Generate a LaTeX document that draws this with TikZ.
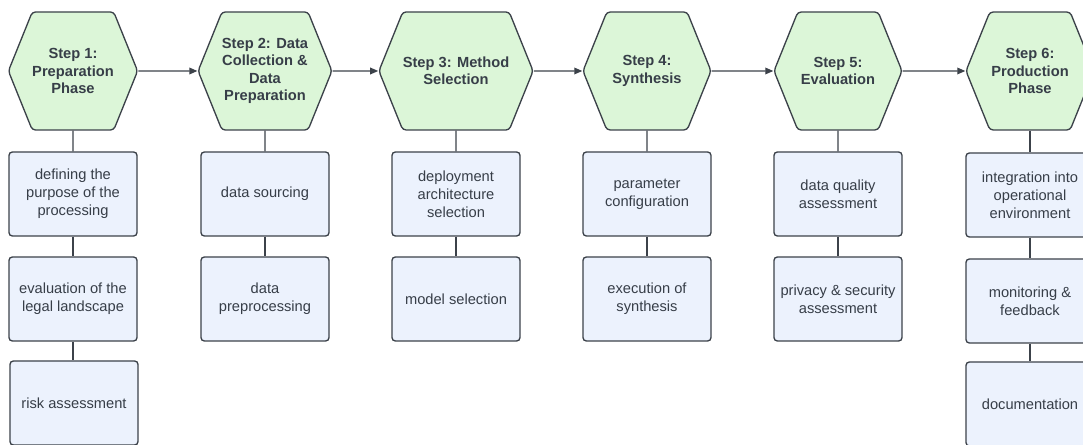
\documentclass[tikz,border=0pt]{standalone}
\usepackage{fontspec}
\setmainfont{Liberation Sans}
\usetikzlibrary{arrows.meta,shapes.symbols}

\definecolor{hexgreen}{RGB}{220,246,216}
\definecolor{boxblue}{RGB}{236,242,253}
\definecolor{edgegray}{RGB}{60,66,74}
\definecolor{textgray}{RGB}{55,62,72}

\tikzset{every picture/.style={line width=0.75pt}}

\begin{document}
\begin{tikzpicture}[x=0.75pt,y=0.75pt,yscale=-1,xscale=1,
  phase/.style={signal, signal to=east and west, signal pointer angle=136,
    draw=edgegray, fill=hexgreen, rounded corners=2.5pt, line width=1pt,
    minimum width=96pt, minimum height=88.5pt, inner sep=0pt, align=center,
    text=textgray, font=\fontsize{11}{13}\selectfont\bfseries},
  task/.style={rectangle, draw=edgegray, fill=boxblue, rounded corners=2.5pt,
    line width=1pt, minimum width=96pt, minimum height=63pt, inner sep=0pt,
    align=center, text=textgray, font=\fontsize{11}{13.5}\selectfont},
  flow/.style={draw=edgegray, line width=0.9pt, -{Triangle[length=6pt,width=5pt]}},
  tie/.style={draw=edgegray, line width=1pt}]
%set diagram to 1083 x 445
\useasboundingbox (0,0) rectangle (1083,445);

% Phase Nodes
\node [phase] (prep) at (73,71) {Step 1:\\Preparation\\Phase};
\node [phase] (data) at (265,71) {Step 2: Data\\Collection \&\\Data\\Preparation};
\node [phase] (meth) at (456,71) {Step 3: Method\\Selection};
\node [phase] (synt) at (647,71) {Step 4:\\Synthesis};
\node [phase] (eval) at (838,71) {Step 5:\\Evaluation};
\node [phase] (prod) at (1030,71) {Step 6:\\Production\\Phase};

% Task Nodes
\node [task] (prepA) at (73,194) {defining the\\purpose of the\\processing};
\node [task] (prepB) at (73,299) {evaluation of the\\legal landscape};
\node [task] (prepC) at (74,403) {risk assessment};

\node [task] (dataA) at (265,194) {data sourcing};
\node [task] (dataB) at (265,299) {data\\preprocessing};

\node [task] (methA) at (456,194) {deployment\\architecture\\selection};
\node [task] (methB) at (456,299) {model selection};

\node [task] (syntA) at (647,194) {parameter\\configuration};
\node [task] (syntB) at (647,299) {execution of\\synthesis};

\node [task] (evalA) at (838,194) {data quality\\assessment};
\node [task] (evalB) at (838,299) {privacy \& security\\assessment};

\node [task] (prodA) at (1030,195) {integration into\\operational\\environment};
\node [task] (prodB) at (1030,301) {monitoring \&\\feedback};
\node [task] (prodC) at (1030,404) {documentation};

%Straight Lines between phases
\draw [flow] (prep) -- (data);
\draw [flow] (data) -- (meth);
\draw [flow] (meth) -- (synt);
\draw [flow] (synt) -- (eval);
\draw [flow] (eval) -- (prod);

%Straight Lines down each column
\draw [tie] (prep) -- (prepA);
\draw [tie] (prepA) -- (prepB);
\draw [tie] (prepB.south) -- (prepC.north -| prepB.south);

\draw [tie] (data) -- (dataA);
\draw [tie] (dataA) -- (dataB);

\draw [tie] (meth) -- (methA);
\draw [tie] (methA) -- (methB);

\draw [tie] (synt) -- (syntA);
\draw [tie] (syntA) -- (syntB);

\draw [tie] (eval) -- (evalA);
\draw [tie] (evalA) -- (evalB);

\draw [tie] (prod) -- (prodA);
\draw [tie] (prodA) -- (prodB);
\draw [tie] (prodB) -- (prodC);

\end{tikzpicture}
\end{document}
